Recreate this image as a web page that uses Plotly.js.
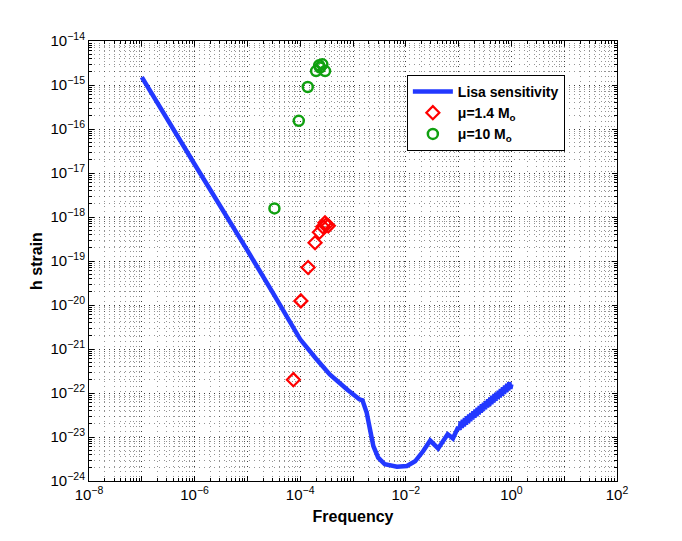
<!DOCTYPE html>
<html>
<head>
<meta charset="utf-8">
<script src="https://cdn.plot.ly/plotly-3.0.1.min.js"></script>
<style>
  body { margin: 0; background: #fff; }
  #myDiv { width: 682px; height: 541px; }
</style>
</head>
<body>
<div id="myDiv"></div>
<script>
// Lisa sensitivity curve; the last stretch is the thick wiggly band
var lisaFreq = [1e-7, 1e-6, 1e-5, 3.16e-5, 1e-4, 2e-4, 3.63e-4, 7.94e-4, 1.32e-3, 1.51e-3,
  1.82e-3, 2.1e-3, 2.43e-3, 3.0e-3, 4.0e-3, 6.8e-3, 1.05e-2, 1.5e-2, 2.14e-2, 2.9e-2,
  4.1e-2, 6.2e-2, 7.8e-2, 9.8e-2,
  0.1047, 0.1096, 0.1148, 0.1202, 0.1259, 0.1318, 0.1380, 0.1445, 0.1514, 0.1585,
  0.1660, 0.1738, 0.1820, 0.1905, 0.1995, 0.2089, 0.2188, 0.2291, 0.2399, 0.2512,
  0.2630, 0.2754, 0.2884, 0.3020, 0.3162, 0.3311, 0.3467, 0.3631, 0.3802, 0.3981,
  0.4169, 0.4365, 0.4571, 0.4786, 0.5012, 0.5248, 0.5495, 0.5754, 0.6026, 0.6310,
  0.6607, 0.6918, 0.7244, 0.7586, 0.7943, 0.8318, 0.8710, 0.9120, 0.9550, 1.0];
var lisaStrain = [1.51e-15, 1.58e-17, 1.74e-19, 1.74e-20, 1.66e-21, 6.0e-22, 2.63e-22, 1.17e-22, 7.2e-23, 6.8e-23,
  3.55e-23, 1.48e-23, 6.2e-24, 3.4e-24, 2.4e-24, 2.1e-24, 2.2e-24, 2.8e-24, 4.8e-24, 8.3e-24,
  5.5e-24, 1.15e-23, 9.3e-24, 1.66e-23,
  1.459e-23, 2.257e-23, 1.596e-23, 2.468e-23, 1.745e-23, 2.698e-23, 1.908e-23, 2.951e-23, 2.086e-23, 3.226e-23,
  2.281e-23, 3.527e-23, 2.494e-23, 3.857e-23, 2.727e-23, 4.217e-23, 2.982e-23, 4.611e-23, 3.260e-23, 5.042e-23,
  3.565e-23, 5.513e-23, 3.898e-23, 6.028e-23, 4.262e-23, 6.591e-23, 4.660e-23, 7.207e-23, 5.096e-23, 7.880e-23,
  5.572e-23, 8.617e-23, 6.092e-23, 9.42e-23, 6.66e-23, 1.030e-22, 7.28e-23, 1.127e-22, 7.96e-23, 1.232e-22,
  8.71e-23, 1.347e-22, 9.53e-23, 1.473e-22, 1.042e-22, 1.611e-22, 1.139e-22, 1.762e-22, 1.245e-22, 1.584e-22];

// mu = 1.4 Mo
var redFreq = [7.43e-5, 1.03e-4, 1.41e-4, 1.91e-4, 2.31e-4, 2.68e-4, 2.95e-4, 3.09e-4, 3.41e-4];
var redStrain = [2.01e-22, 1.24e-20, 7.1e-20, 2.6e-19, 4.5e-19, 6.0e-19, 7.4e-19, 6.6e-19, 6.3e-19];

// mu = 10 Mo
var greenFreq = [3.25e-5, 9.4e-5, 1.39e-4, 2.0e-4, 2.28e-4, 2.38e-4, 2.63e-4, 2.96e-4];
var greenStrain = [1.57e-18, 1.53e-16, 9.0e-16, 2.07e-15, 2.8e-15, 2.5e-15, 2.95e-15, 2.07e-15];

// ticks
var xTickVals = [1e-8, 1e-7, 1e-6, 1e-5, 1e-4, 1e-3, 1e-2, 1e-1, 1e0, 1e1, 1e2];
var xTickText = ['10<sup>\u22128</sup>', '', '10<sup>\u22126</sup>', '', '10<sup>\u22124</sup>', '',
  '10<sup>\u22122</sup>', '', '10<sup>0</sup>', '', '10<sup>2</sup>'];
var yTickVals = [1e-24, 1e-23, 1e-22, 1e-21, 1e-20, 1e-19, 1e-18, 1e-17, 1e-16, 1e-15, 1e-14];
var yTickText = ['10<sup>\u221224</sup>', '10<sup>\u221223</sup>', '10<sup>\u221222</sup>', '10<sup>\u221221</sup>',
  '10<sup>\u221220</sup>', '10<sup>\u221219</sup>', '10<sup>\u221218</sup>', '10<sup>\u221217</sup>',
  '10<sup>\u221216</sup>', '10<sup>\u221215</sup>', '10<sup>\u221214</sup>'];

var fam = '"Liberation Sans", Arial, Helvetica, sans-serif';
var gridDash = '1px,4px';

var trace1 = {
  x: lisaFreq, y: lisaStrain,
  type: 'scatter', mode: 'lines',
  name: 'Lisa sensitivity',
  line: {color: '#2238ff', width: 4.5, simplify: false}
};
var trace2 = {
  x: redFreq, y: redStrain,
  type: 'scatter', mode: 'markers',
  name: '\u03bc=1.4 M<sub>o</sub>',
  marker: {symbol: 'diamond-open', size: 10, color: '#ff0000', line: {width: 2.2, color: '#ff0000'}}
};
var trace3 = {
  x: greenFreq, y: greenStrain,
  type: 'scatter', mode: 'markers',
  name: '\u03bc=10 M<sub>o</sub>',
  marker: {symbol: 'circle-open', size: 10, color: '#10a010', line: {width: 2.5, color: '#10a010'}}
};

var axisCommon = {
  type: 'log',
  showline: true, linecolor: '#000', linewidth: 1, mirror: 'allticks',
  ticks: 'inside', ticklen: 5, tickcolor: '#000',
  tickmode: 'array',
  showgrid: true, gridcolor: 'rgba(0,0,0,0.6)', griddash: gridDash, gridwidth: 1,
  zeroline: false,
  tickfont: {family: fam, size: 15, color: '#000'},
  minor: {dtick: 'D1', ticks: 'inside', ticklen: 3, tickcolor: '#000',
          showgrid: true, gridcolor: 'rgba(0,0,0,0.42)', griddash: gridDash, gridwidth: 1}
};

var layout = {
  width: 682, height: 541,
  margin: {l: 89, r: 65, t: 41, b: 60},
  paper_bgcolor: '#fff', plot_bgcolor: '#fff',
  showlegend: true,
  legend: {
    x: 0.602, y: 0.923, xanchor: 'left', yanchor: 'top',
    bgcolor: '#fff', bordercolor: '#000', borderwidth: 1,
    font: {family: fam, size: 14, color: '#000', weight: 'bold'},
    itemwidth: 40
  },
  xaxis: Object.assign({}, axisCommon, {
    range: [-8, 2],
    tickvals: xTickVals, ticktext: xTickText,
    title: {text: 'Frequency', font: {family: fam, size: 16, color: '#000', weight: 'bold'}, standoff: 8}
  }),
  yaxis: Object.assign({}, axisCommon, {
    range: [-24, -14],
    tickvals: yTickVals, ticktext: yTickText,
    title: {text: 'h strain', font: {family: fam, size: 16, color: '#000', weight: 'bold'}, standoff: 3}
  })
};

Plotly.newPlot('myDiv', [trace1, trace2, trace3], layout, {displayModeBar: false, staticPlot: true});
</script>
</body>
</html>
